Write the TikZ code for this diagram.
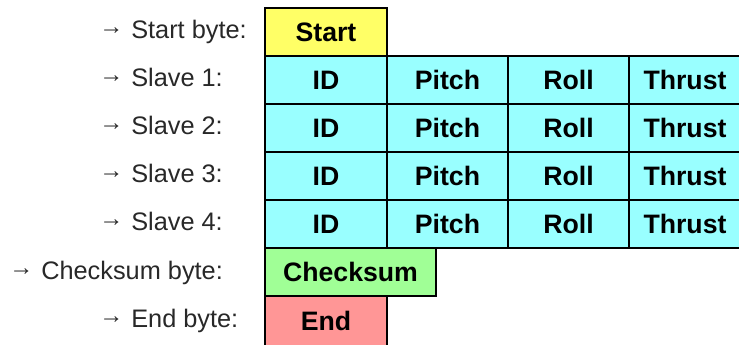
\documentclass[tikz,border=0pt]{standalone}
\usepackage{fontspec}
\setmainfont{Liberation Sans}
\definecolor{cyellow}{RGB}{255,255,102}
\definecolor{ccyan}{RGB}{153,255,255}
\definecolor{cgreen}{RGB}{160,255,150}
\definecolor{cpink}{RGB}{255,150,150}
\definecolor{labgray}{RGB}{40,40,40}
\newcommand{\myarr}{\raisebox{2.6pt}{\fontsize{18}{20}\selectfont →}\hspace{6pt}}
\begin{document}
\begin{tikzpicture}[x=0.75pt,y=-0.75pt,
  cell/.style={draw=black,line width=0.9pt,rectangle,inner sep=0pt,
    minimum height=36pt,font=\fontsize{20}{24}\selectfont\bfseries},
  lab/.style={anchor=base west,inner sep=0pt,text=labgray,font=\fontsize{19}{22}\selectfont}]
\useasboundingbox (0,0) rectangle (739,344);
% start
\node[cell,fill=cyellow,minimum width=91.5pt] (start) at (326,32) {Start};
% slave rows
\foreach \r/\y in {1/80,2/128,3/176,4/224}{
  \node[cell,fill=ccyan,minimum width=91.5pt] (id\r) at (326,\y) {ID};
  \node[cell,fill=ccyan,minimum width=90.75pt] (pitch\r) at (447.5,\y) {Pitch};
  \node[cell,fill=ccyan,minimum width=90.75pt] (roll\r) at (568.5,\y) {Roll};
  \node[cell,fill=ccyan,minimum width=84pt] (thrust\r) at (685,\y) {Thrust};
}
\node[cell,fill=cgreen,minimum width=128.25pt] (chk) at (350.5,272) {Checksum};
\node[cell,fill=cpink,minimum width=91.5pt,minimum height=37.5pt] (end) at (326,321) {End};
% labels
\node[lab] (lstart) at (99,38) {\myarr Start byte:};
\node[lab] (ls1) at (99,86) {\myarr Slave 1:};
\node[lab] (ls2) at (99,134) {\myarr Slave 2:};
\node[lab] (ls3) at (99,182) {\myarr Slave 3:};
\node[lab] (ls4) at (99,230) {\myarr Slave 4:};
\node[lab] (lchk) at (9,279) {\myarr Checksum byte:};
\node[lab] (lend) at (99,327) {\myarr End byte:};
\end{tikzpicture}
\end{document}
